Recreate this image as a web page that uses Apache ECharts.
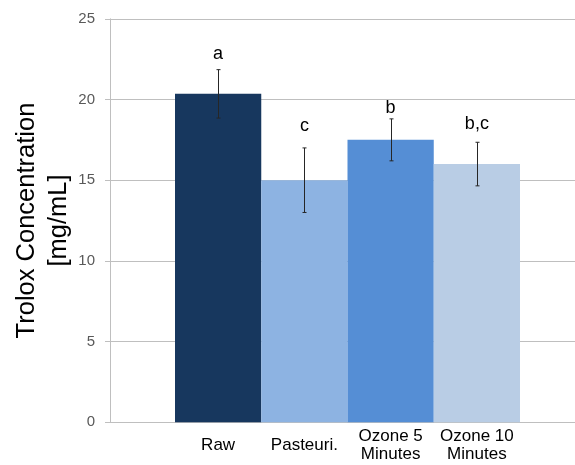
<!DOCTYPE html>
<html>
<head>
<meta charset="utf-8">
<script src="https://cdn.jsdelivr.net/npm/echarts@6/dist/echarts.min.js"></script>
<style>html,body{margin:0;padding:0;background:#fff;}#c{width:575px;height:465px;}</style>
</head>
<body>
<div id="c"></div>
<script>
var categories = ['Raw', 'Pasteuri.', 'Ozone 5\nMinutes', 'Ozone 10\nMinutes'];
var means = [20.35, 15.0, 17.5, 16.0];
var errors = [1.5, 2.0, 1.3, 1.35];
var letters = ['a', 'c', 'b', 'b,c'];
var letterLevels = [22.8, 18.35, 19.5, 18.45];
var barColors = ['#17375e', '#8db3e2', '#558ed5', '#b9cde5'];
var yTicks = [0, 5, 10, 15, 20, 25];

var FONT = 'Liberation Sans';
var chart = echarts.init(document.getElementById('c'), null, {renderer: 'canvas'});

var option = {
  animation: false,
  backgroundColor: '#fff',
  grid: [
    {left: 110, right: 0, top: 18.8, bottom: 42.7, containLabel: false, outerBoundsMode: 'none'},
    {left: 175, right: 55, top: 18.8, bottom: 42.7, containLabel: false, outerBoundsMode: 'none'}
  ],
  xAxis: [
    {gridIndex: 0, type: 'value', min: 0, max: 1, show: false},
    {gridIndex: 1, type: 'category', data: categories,
      axisLine: {show: false}, axisTick: {show: false},
      axisLabel: {interval: 0, color: '#000', fontFamily: FONT, fontSize: 17, lineHeight: 18.5,
        verticalAlign: 'middle', margin: 23}}
  ],
  yAxis: [
    {gridIndex: 0, type: 'value', min: yTicks[0], max: yTicks[yTicks.length - 1], interval: 5,
      name: 'Trolox Concentration\n[mg/mL]', nameLocation: 'middle', nameGap: 35, nameMoveOverlap: false,
      nameTextStyle: {fontFamily: FONT, fontSize: 25.5, lineHeight: 32, color: '#000'},
      axisLine: {show: true, lineStyle: {color: '#bfbfbf', width: 1}},
      axisTick: {show: true, length: 5, lineStyle: {color: '#bfbfbf'}},
      axisLabel: {color: '#595959', fontFamily: FONT, fontSize: 15, margin: 15},
      splitLine: {show: true, lineStyle: {color: '#bfbfbf', width: 1}}},
    {gridIndex: 1, type: 'value', min: yTicks[0], max: yTicks[yTicks.length - 1], show: false}
  ],
  series: [
    {type: 'bar', xAxisIndex: 1, yAxisIndex: 1, barWidth: '100%',
      data: means.map(function (v, i) { return {value: v, itemStyle: {color: barColors[i]}}; })},
    {type: 'custom', xAxisIndex: 1, yAxisIndex: 1, z: 5,
      data: means.map(function (v, i) { return [i, v, errors[i], letterLevels[i]]; }),
      renderItem: function (params, api) {
        var i = api.value(0), m = api.value(1), e = api.value(2), lv = api.value(3);
        var top = api.coord([i, m + e]);
        var bot = api.coord([i, m - e]);
        var lp = api.coord([i, lv]);
        var x = Math.round(top[0]) + 0.5;
        var cap = 2;
        var st = {stroke: '#262626', lineWidth: 1};
        return {type: 'group', children: [
          {type: 'line', shape: {x1: x, y1: top[1], x2: x, y2: bot[1]}, style: st},
          {type: 'line', shape: {x1: x - cap, y1: top[1], x2: x + cap, y2: top[1]}, style: st},
          {type: 'line', shape: {x1: x - cap, y1: bot[1], x2: x + cap, y2: bot[1]}, style: st},
          {type: 'text', x: lp[0], y: lp[1], style: {text: letters[params.dataIndex], fill: '#000',
            font: '18px "' + FONT + '"', align: 'center', verticalAlign: 'middle'}}
        ]};
      }}
  ]
};
chart.setOption(option);
</script>
</body>
</html>
